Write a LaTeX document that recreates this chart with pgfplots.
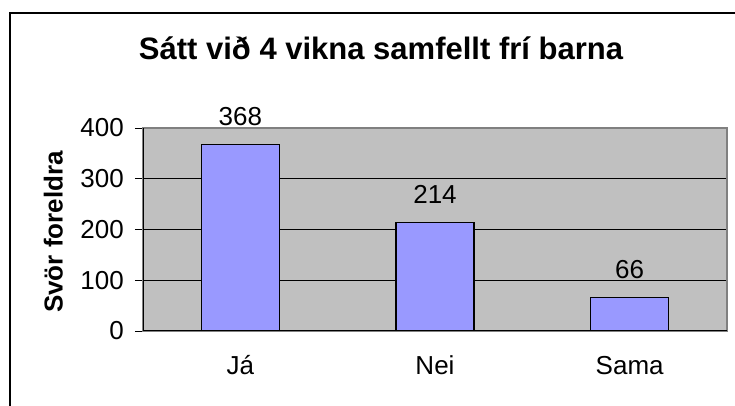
\documentclass[border=0pt]{standalone}
\usepackage{pgfplots}
\pgfplotsset{compat=1.18}
\usepackage{fontspec}
\setmainfont{Liberation Sans}
\definecolor{barfill}{HTML}{9999FF}
\definecolor{plotbg}{HTML}{C0C0C0}
\definecolor{bordergray}{HTML}{808080}
\begin{document}
\begin{tikzpicture}
\useasboundingbox (-143pt,-75pt) rectangle (592pt,331pt);
\fill[white] (-143pt,-75pt) rectangle (592pt,331pt);
\draw[black, line width=1.2pt] (-133pt,-80pt) -- (-133pt,318pt) -- (600pt,318pt);
\node[anchor=base, inner sep=0pt, font=\fontsize{26}{30}\selectfont] at (-8pt,338pt) {g};
\begin{axis}[
  at={(0pt,0pt)}, anchor=south west,
  scale only axis, width=584pt, height=203pt,
  xmin=-0.5, xmax=2.5, ymin=0, ymax=400,
  axis background/.style={fill=plotbg},
  axis line style={draw=bordergray, line width=1.5pt},
  ytick={0,100,200,300,400},
  xtick={0,1,2}, xticklabels={Já,Nei,Sama},
  x tick style={draw=none},
  extra x ticks={-0.5,0.5,1.5,2.5},
  extra x tick labels={},
  extra x tick style={grid=none, tick style={draw=black, line width=0.8pt}},
  y tick style={draw=black, line width=0.8pt},
  tick align=outside, tick pos=left,
  major tick length=8pt,
  ymajorgrids, major grid style={black, line width=0.8pt},
  ticklabel style={font=\fontsize{26}{30}\selectfont},
  /pgf/number format/assume math mode=true,
  yticklabel style={anchor=east, inner sep=0pt, xshift=-11pt},
  xticklabel style={anchor=north, inner sep=0pt, text height=19pt, text depth=0pt, yshift=-16pt},
  ybar, bar width=78pt, bar shift=0pt,
  nodes near coords,
  every node near coord/.append style={anchor=south, inner sep=0pt, yshift=18pt, font=\fontsize{26}{30}\selectfont, text=black},
]
\addplot[fill=barfill, draw=black, line width=1.3pt] coordinates {(0,368) (1,214) (2,66)};
\end{axis}
\draw[black, line width=1pt] (0pt,0pt) -- (0pt,203pt);
\draw[black, line width=1pt] (0pt,0pt) -- (584pt,0pt);
\node[anchor=base, inner sep=0pt, font=\bfseries\fontsize{31}{36}\selectfont] at (238pt,271pt) {Sátt við 4 vikna samfellt frí barna};
\node[rotate=90, anchor=base, inner sep=0pt, font=\bfseries\fontsize{26}{30}\selectfont] at (-80.3pt,99pt) {Svör foreldra};
\end{tikzpicture}
\end{document}
